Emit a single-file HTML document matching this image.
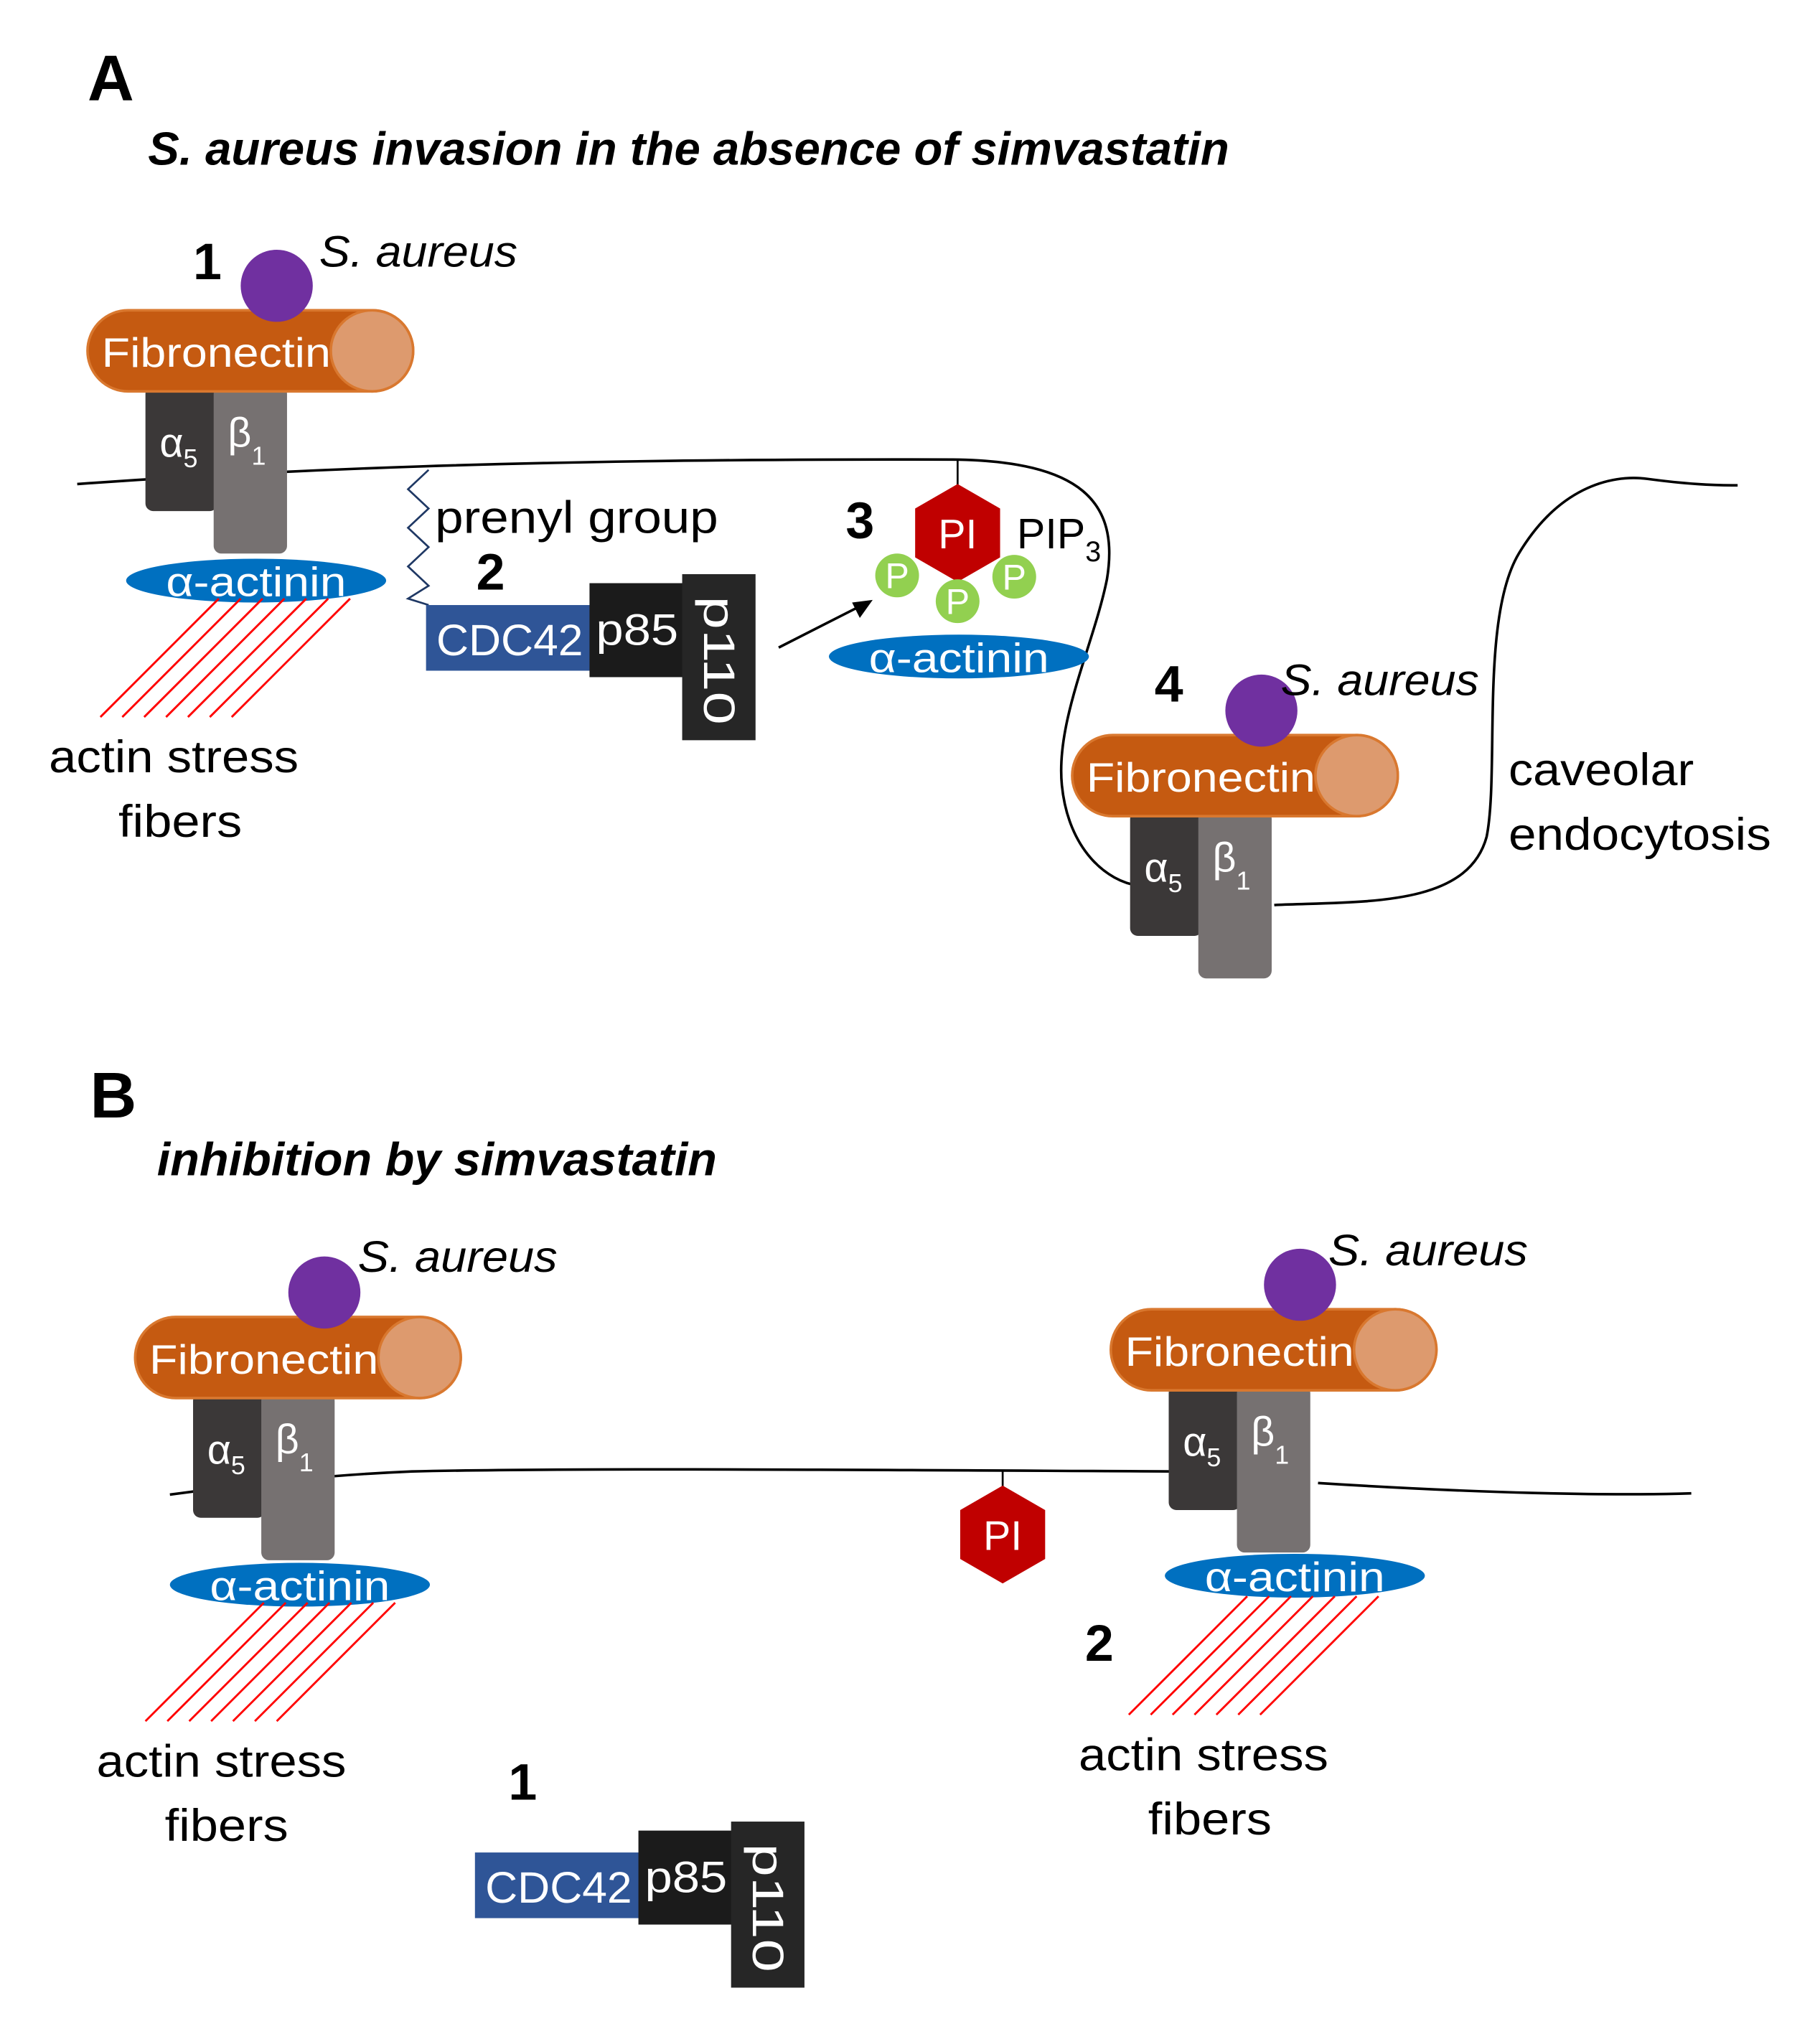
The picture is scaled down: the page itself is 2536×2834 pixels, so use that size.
<!DOCTYPE html>
<html><head><meta charset="utf-8"><style>html,body{margin:0;padding:0;background:#fff}svg{display:block}</style></head><body>
<svg width="2536" height="2834" viewBox="0 0 1414 1580" preserveAspectRatio="none" xmlns="http://www.w3.org/2000/svg" font-family="'Liberation Sans', sans-serif">
<defs>
<g id="cx">
  <rect x="46" y="60" width="56" height="97" rx="6" fill="#3b3838"/>
  <rect x="99" y="60" width="57" height="130" rx="6" fill="#767171"/>
  <text x="57" y="115" font-size="32" fill="#fff">α<tspan font-size="20" dy="8">5</tspan></text>
  <text x="110" y="107" font-size="32" fill="#fff">β<tspan font-size="20" dy="14">1</tspan></text>
  <rect x="1" y="1" width="253" height="63" rx="31.5" fill="#c55a11" stroke="#d9782f" stroke-width="2"/>
  <ellipse cx="222" cy="32.5" rx="32" ry="31.5" fill="#dd9a6e" stroke="#d9782f" stroke-width="2"/>
  <text x="12" y="45" font-size="32" fill="#fff" textLength="178" lengthAdjust="spacingAndGlyphs">Fibronectin</text>
  <circle cx="148" cy="-18" r="28" fill="#7030a0"/>
</g>
<g id="act">
  <ellipse cx="0" cy="0" rx="101" ry="17" fill="#0070c0"/>
  <text x="0" y="12" font-size="32" fill="#fff" text-anchor="middle" textLength="140" lengthAdjust="spacingAndGlyphs">α-actinin</text>
</g>
<g id="fib" stroke="#ff0000" stroke-width="1.6">
  <line x1="0" y1="92" x2="92" y2="0"/><line x1="17" y1="92" x2="109" y2="0"/><line x1="34" y1="92" x2="126" y2="0"/><line x1="51" y1="92" x2="143" y2="0"/><line x1="68" y1="92" x2="160" y2="0"/><line x1="85" y1="92" x2="177" y2="0"/><line x1="102" y1="92" x2="194" y2="0"/>
</g>
<g id="pik">
  <rect x="0" y="17" width="129" height="51" fill="#2f5597"/>
  <text x="8" y="56" font-size="34" fill="#fff" textLength="114" lengthAdjust="spacingAndGlyphs">CDC42</text>
  <rect x="127" y="0" width="73" height="73" fill="#1b1b1b"/>
  <text x="132" y="48" font-size="34" fill="#fff" textLength="64" lengthAdjust="spacingAndGlyphs">p85</text>
  <rect x="199" y="-7" width="57" height="129" fill="#262626"/>
  <text transform="translate(216,10) rotate(90)" font-size="34" fill="#fff" textLength="100" lengthAdjust="spacingAndGlyphs">p110</text>
</g>
<g id="hex">
  <polygon points="0,-38 33,-19 33,19 0,38 -33,19 -33,-19" fill="#c00000"/>
  <text x="0" y="12" font-size="32" fill="#fff" text-anchor="middle">PI</text>
</g>
</defs>

<text x="68" y="78" font-size="50" font-weight="bold">A</text>
<text x="115" y="128" font-size="36" font-weight="bold" font-style="italic" textLength="840" lengthAdjust="spacingAndGlyphs">S. aureus invasion in the absence of simvastatin</text>

<path d="M60,376 C200,366 400,356 740,357 C840,358 870,390 860,450 C850,500 820,560 825,610 C830,660 860,685 885,688 M990,703 C1060,700 1140,705 1155,650 C1165,600 1150,480 1180,430 C1210,380 1250,368 1280,372 C1310,376 1330,377 1350,377" fill="none" stroke="#000" stroke-width="2"/>

<use href="#cx" x="67" y="240"/>
<use href="#act" x="199" y="451"/>
<use href="#fib" x="78" y="465"/>
<text x="150" y="217" font-size="40" font-weight="bold">1</text>
<text x="248" y="207" font-size="34" font-style="italic" textLength="154" lengthAdjust="spacingAndGlyphs">S. aureus</text>
<text x="38" y="600" font-size="35" textLength="194" lengthAdjust="spacingAndGlyphs">actin stress</text>
<text x="92" y="650" font-size="35" textLength="96" lengthAdjust="spacingAndGlyphs">fibers</text>

<polyline points="333,365 317,380 333,395 317,410 333,425 317,440 333,455 317,465 333,470" fill="none" stroke="#1f3864" stroke-width="1.5"/>
<text x="338" y="414" font-size="35" textLength="220" lengthAdjust="spacingAndGlyphs">prenyl group</text>
<text x="370" y="458" font-size="40" font-weight="bold">2</text>
<use href="#pik" x="331" y="453"/>

<line x1="605" y1="503" x2="668" y2="471" stroke="#000" stroke-width="2"/>
<polygon points="678,466 662,468 668,480" fill="#000"/>

<line x1="744" y1="357" x2="744" y2="377" stroke="#000" stroke-width="1.5"/>
<use href="#hex" x="744" y="414"/>
<text x="657" y="418" font-size="40" font-weight="bold">3</text>
<text x="790" y="426" font-size="33">PIP<tspan font-size="22" dy="10">3</tspan></text>
<g font-size="28" fill="#fff" text-anchor="middle">
<circle cx="697" cy="447" r="17" fill="#92d050"/><text x="697" y="457">P</text>
<circle cx="744" cy="467" r="17" fill="#92d050"/><text x="744" y="477">P</text>
<circle cx="788" cy="448" r="17" fill="#92d050"/><text x="788" y="458">P</text>
</g>
<use href="#act" x="745" y="510"/>

<use href="#cx" x="832" y="570"/>
<text x="897" y="545" font-size="40" font-weight="bold">4</text>
<text x="995" y="540" font-size="34" font-style="italic" textLength="154" lengthAdjust="spacingAndGlyphs">S. aureus</text>
<text x="1172" y="610" font-size="35" textLength="144" lengthAdjust="spacingAndGlyphs">caveolar</text>
<text x="1172" y="660" font-size="35" textLength="204" lengthAdjust="spacingAndGlyphs">endocytosis</text>

<text x="70" y="868" font-size="50" font-weight="bold">B</text>
<text x="122" y="913" font-size="36" font-weight="bold" font-style="italic" textLength="435" lengthAdjust="spacingAndGlyphs">inhibition by simvastatin</text>

<path d="M132,1161 C200,1152 250,1146 320,1143 C450,1140 700,1142 913,1143 M1024,1152 C1150,1160 1250,1162 1314,1160" fill="none" stroke="#000" stroke-width="2"/>

<use href="#cx" x="104" y="1022"/>
<use href="#act" x="233" y="1231"/>
<use href="#fib" x="113" y="1245"/>
<text x="278" y="988" font-size="34" font-style="italic" textLength="155" lengthAdjust="spacingAndGlyphs">S. aureus</text>
<text x="75" y="1380" font-size="35" textLength="194" lengthAdjust="spacingAndGlyphs">actin stress</text>
<text x="128" y="1430" font-size="35" textLength="96" lengthAdjust="spacingAndGlyphs">fibers</text>

<line x1="779" y1="1143" x2="779" y2="1155" stroke="#000" stroke-width="1.5"/>
<use href="#hex" x="779" y="1192"/>

<use href="#cx" x="862" y="1016"/>
<use href="#act" x="1006" y="1224"/>
<use href="#fib" x="877" y="1240"/>
<text x="1032" y="983" font-size="34" font-style="italic" textLength="155" lengthAdjust="spacingAndGlyphs">S. aureus</text>
<text x="843" y="1290" font-size="40" font-weight="bold">2</text>
<text x="838" y="1375" font-size="35" textLength="194" lengthAdjust="spacingAndGlyphs">actin stress</text>
<text x="892" y="1425" font-size="35" textLength="96" lengthAdjust="spacingAndGlyphs">fibers</text>

<text x="395" y="1398" font-size="40" font-weight="bold">1</text>
<use href="#pik" x="369" y="1422"/>
</svg>
</body></html>
